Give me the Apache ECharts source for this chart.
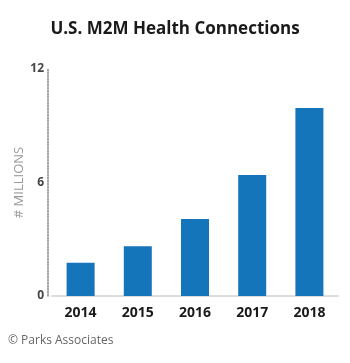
<!DOCTYPE html>
<html>
<head>
<meta charset="utf-8">
<script src="https://cdn.jsdelivr.net/npm/echarts@6/dist/echarts.min.js"></script>
<style>
  html, body { margin: 0; padding: 0; background: #fff; }
  #main { width: 350px; height: 363px; }
</style>
</head>
<body>
<div id="main"></div>
<script>
const years = ['2014', '2015', '2016', '2017', '2018']
const connections = [1.76, 2.63, 4.07, 6.4, 9.94]
const yTicks = [0, 6, 12]

const chart = echarts.init(document.getElementById('main'))
chart.setOption({
  animation: false,
  title: {
    text: 'U.S. M2M Health Connections',
    left: 'center',
    top: 16,
    textStyle: { fontFamily: 'Open Sans', fontWeight: 'bold', fontSize: 17, color: '#1a1a1a' }
  },
  graphic: [{
    type: 'text',
    left: 8,
    top: 335,
    style: { text: '\u00a9 Parks Associates', fontFamily: 'Open Sans', fontSize: 12, fill: '#666' }
  }],
  grid: { left: 52, right: 12, top: 69, bottom: 67 },
  xAxis: {
    type: 'category',
    data: years,
    axisTick: { show: false },
    axisLine: { lineStyle: { color: '#ddd', width: 2 } },
    axisLabel: { color: '#1a1a1a', fontFamily: 'Open Sans', fontWeight: 'bold', fontSize: 14, margin: 10 }
  },
  yAxis: {
    type: 'value',
    min: 0,
    max: yTicks[yTicks.length - 1],
    interval: 6,
    offset: 4,
    name: '# MILLIONS',
    nameLocation: 'middle',
    nameGap: 22,
    nameMoveOverlap: false,
    nameTextStyle: { color: '#999', fontFamily: 'Open Sans', fontSize: 13 },
    axisLine: { show: true, lineStyle: { color: '#888', type: [1.5, 1.5], width: 1.5 } },
    axisTick: { show: false },
    splitLine: { show: false },
    axisLabel: { color: '#444', fontFamily: 'Open Sans', fontWeight: 'bold', fontSize: 12, margin: 4 }
  },
  series: [{
    type: 'bar',
    data: connections,
    barWidth: 28,
    itemStyle: { color: '#1475bb' }
  }]
})
</script>
</body>
</html>
